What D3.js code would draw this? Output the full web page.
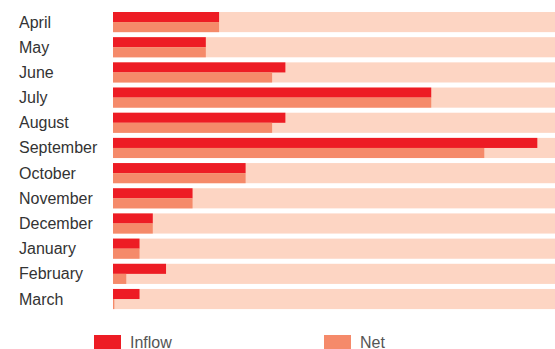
<!DOCTYPE html>
<html>
<head>
<meta charset="utf-8">
<script src="https://cdn.jsdelivr.net/npm/d3@7"></script>
<style>
  html, body { margin: 0; padding: 0; background: #fff; }
  svg { display: block; }
  text { font-family: "Liberation Sans", Arial, Helvetica, sans-serif; }
</style>
</head>
<body>
<svg id="chart" width="555" height="349"></svg>
<script>
// Monthly flows (share of the total, %)
const months = ["April", "May", "June", "July", "August", "September",
                "October", "November", "December", "January", "February", "March"];
const inflow = [24, 21, 39, 72, 39, 96, 30, 18, 9, 6, 12, 6];
const net    = [24, 21, 36, 72, 36, 84, 30, 18, 9, 6, 3, 0.3];
const totals = [100, 100, 100, 100, 100, 100, 100, 100, 100, 100, 100, 100];
const seriesNames = ["Inflow", "Net"];
const colors = { Inflow: "#ed1c24", Net: "#f58a6a", track: "#fdd5c3" };

const svg = d3.select("#chart");
const W = 555;

const x = d3.scaleLinear().domain([0, 100]).range([113, W]);
const y = d3.scaleBand().domain(months).range([12, 309.1]).paddingInner(0.2).paddingOuter(0);

const rows = months.map((m, i) => ({ m, inflow: inflow[i], net: net[i], total: totals[i] }));

const g = svg.append("g");

// background track
g.selectAll("rect.track").data(rows).join("rect")
  .attr("class", "track")
  .attr("x", x(0))
  .attr("y", d => y(d.m))
  .attr("width", d => x(d.total) - x(0))
  .attr("height", y.bandwidth())
  .attr("fill", colors.track);

// inflow (top half)
g.selectAll("rect.inflow").data(rows).join("rect")
  .attr("class", "inflow")
  .attr("x", x(0))
  .attr("y", d => y(d.m))
  .attr("width", d => x(d.inflow) - x(0))
  .attr("height", y.bandwidth() / 2)
  .attr("fill", colors.Inflow);

// net (bottom half)
g.selectAll("rect.net").data(rows).join("rect")
  .attr("class", "net")
  .attr("x", x(0))
  .attr("y", d => y(d.m) + y.bandwidth() / 2)
  .attr("width", d => x(d.net) - x(0))
  .attr("height", y.bandwidth() / 2)
  .attr("fill", colors.Net);

// month labels
g.selectAll("text.month").data(rows).join("text")
  .attr("class", "month")
  .attr("x", 19)
  .attr("y", d => y(d.m) + y.bandwidth() / 2 + 5.5)
  .attr("font-size", 16)
  .attr("fill", "#333")
  .text(d => d.m);

// legend
const legendX = [94, 324];
const legend = svg.selectAll("g.legend").data(seriesNames).join("g")
  .attr("class", "legend")
  .attr("transform", (d, i) => `translate(${legendX[i]},335)`);
legend.append("rect")
  .attr("width", 27).attr("height", 14)
  .attr("fill", d => colors[d]);
legend.append("text")
  .attr("x", 36).attr("y", 12.5)
  .attr("font-size", 16)
  .attr("fill", "#555")
  .text(d => d);
</script>
</body>
</html>
